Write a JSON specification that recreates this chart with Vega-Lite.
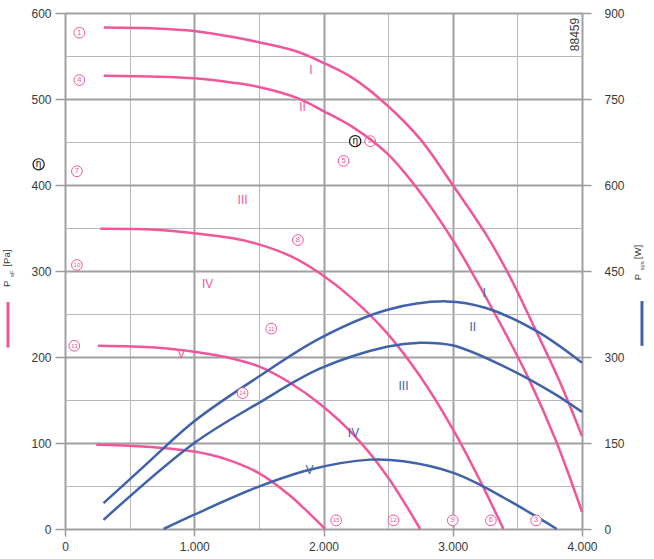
{
  "$schema": "https://vega.github.io/schema/vega-lite/v6.json",
  "width": 517,
  "height": 516,
  "autosize": {"type": "none"},
  "padding": {"left": 65, "top": 13, "right": 72, "bottom": 30},
  "background": "white",
  "config": {
    "view": {"stroke": null},
    "text": {"font": "Liberation Sans"},
    "axis": {"labelFont": "Liberation Sans", "labelFontSize": 12, "labelColor": "#3a3a3a", "domain": false, "tickColor": "#9a9a9a", "tickWidth": 1.5, "labelFlush": false}
  },
  "datasets": {
    "pink": [
      {"c": "I", "x": 300, "y": 583}, {"c": "I", "x": 700, "y": 582}, {"c": "I", "x": 1000, "y": 579}, {"c": "I", "x": 1300, "y": 572}, {"c": "I", "x": 1500, "y": 566}, {"c": "I", "x": 1800, "y": 555}, {"c": "I", "x": 2000, "y": 542}, {"c": "I", "x": 2230, "y": 524}, {"c": "I", "x": 2490, "y": 493}, {"c": "I", "x": 2750, "y": 453}, {"c": "I", "x": 3000, "y": 400}, {"c": "I", "x": 3260, "y": 342}, {"c": "I", "x": 3440, "y": 294}, {"c": "I", "x": 3620, "y": 238}, {"c": "I", "x": 3820, "y": 174}, {"c": "I", "x": 4000, "y": 108},
      {"c": "II", "x": 300, "y": 527}, {"c": "II", "x": 700, "y": 526}, {"c": "II", "x": 1000, "y": 524}, {"c": "II", "x": 1300, "y": 519}, {"c": "II", "x": 1500, "y": 514}, {"c": "II", "x": 1800, "y": 501}, {"c": "II", "x": 2000, "y": 486}, {"c": "II", "x": 2230, "y": 467}, {"c": "II", "x": 2490, "y": 437}, {"c": "II", "x": 2750, "y": 391}, {"c": "II", "x": 3000, "y": 336}, {"c": "II", "x": 3135, "y": 302}, {"c": "II", "x": 3360, "y": 241}, {"c": "II", "x": 3590, "y": 174}, {"c": "II", "x": 3800, "y": 102}, {"c": "II", "x": 4000, "y": 20},
      {"c": "III", "x": 273, "y": 349}, {"c": "III", "x": 700, "y": 348}, {"c": "III", "x": 1000, "y": 344}, {"c": "III", "x": 1300, "y": 338}, {"c": "III", "x": 1500, "y": 331}, {"c": "III", "x": 1750, "y": 317}, {"c": "III", "x": 1975, "y": 297}, {"c": "III", "x": 2230, "y": 267}, {"c": "III", "x": 2490, "y": 228}, {"c": "III", "x": 2750, "y": 177}, {"c": "III", "x": 3005, "y": 115}, {"c": "III", "x": 3212, "y": 56}, {"c": "III", "x": 3392, "y": 0},
      {"c": "IV", "x": 255, "y": 213}, {"c": "IV", "x": 700, "y": 211}, {"c": "IV", "x": 1000, "y": 206}, {"c": "IV", "x": 1300, "y": 198}, {"c": "IV", "x": 1500, "y": 189}, {"c": "IV", "x": 1740, "y": 170}, {"c": "IV", "x": 1975, "y": 145}, {"c": "IV", "x": 2230, "y": 110}, {"c": "IV", "x": 2490, "y": 62}, {"c": "IV", "x": 2748, "y": 0},
      {"c": "V", "x": 242, "y": 98}, {"c": "V", "x": 600, "y": 96}, {"c": "V", "x": 1000, "y": 90}, {"c": "V", "x": 1250, "y": 81}, {"c": "V", "x": 1500, "y": 65}, {"c": "V", "x": 1740, "y": 39}, {"c": "V", "x": 1870, "y": 21}, {"c": "V", "x": 2013, "y": 0}
    ],
    "blue": [
      {"c": "A", "x": 298, "w": 45}, {"c": "A", "x": 600, "w": 107}, {"c": "A", "x": 1000, "w": 188}, {"c": "A", "x": 1500, "w": 266}, {"c": "A", "x": 1975, "w": 333}, {"c": "A", "x": 2490, "w": 382}, {"c": "A", "x": 2954, "w": 397}, {"c": "A", "x": 3264, "w": 385}, {"c": "A", "x": 3650, "w": 345}, {"c": "A", "x": 4000, "w": 290},
      {"c": "B", "x": 298, "w": 16}, {"c": "B", "x": 1000, "w": 150}, {"c": "B", "x": 1500, "w": 220}, {"c": "B", "x": 1975, "w": 280}, {"c": "B", "x": 2490, "w": 318}, {"c": "B", "x": 2748, "w": 325}, {"c": "B", "x": 3005, "w": 320}, {"c": "B", "x": 3392, "w": 284}, {"c": "B", "x": 3778, "w": 237}, {"c": "B", "x": 4000, "w": 204},
      {"c": "C", "x": 763, "w": 0}, {"c": "C", "x": 1000, "w": 25}, {"c": "C", "x": 1500, "w": 74}, {"c": "C", "x": 1884, "w": 103}, {"c": "C", "x": 2361, "w": 121}, {"c": "C", "x": 2619, "w": 118}, {"c": "C", "x": 3005, "w": 98}, {"c": "C", "x": 3212, "w": 77}, {"c": "C", "x": 3392, "w": 55}, {"c": "C", "x": 3599, "w": 28}, {"c": "C", "x": 3805, "w": 0}
    ],
    "pinkLabels": [
      {"t": "I", "x": 1902, "y": 534}, {"t": "II", "x": 1838, "y": 491}, {"t": "III", "x": 1374, "y": 383}, {"t": "IV", "x": 1103, "y": 285}, {"t": "V", "x": 899, "y": 204}
    ],
    "blueLabels": [
      {"t": "I", "x": 3243, "y": 274}, {"t": "II", "x": 3155, "y": 235}, {"t": "III", "x": 2619, "y": 166}, {"t": "IV", "x": 2232, "y": 112}, {"t": "V", "x": 1892, "y": 69}
    ],
    "circle2": [{"t": "2", "x": 2361, "y": 451}],
    "circles": [
      {"t": "1", "x": 111, "y": 577}, {"t": "4", "x": 111, "y": 522}, {"t": "7", "x": 92, "y": 416}, {"t": "10", "x": 92, "y": 307}, {"t": "13", "x": 72, "y": 213},
      {"t": "14", "x": 1374, "y": 158}, {"t": "11", "x": 1596, "y": 233}, {"t": "8", "x": 1802, "y": 336}, {"t": "5", "x": 2155, "y": 428},
      {"t": "15", "x": 2098, "y": 10}, {"t": "12", "x": 2541, "y": 10}, {"t": "9", "x": 3000, "y": 10}, {"t": "6", "x": 3295, "y": 10}, {"t": "3", "x": 3645, "y": 10}
    ],
    "eta": [{"t": "η", "x": 2245, "y": 451}, {"t": "η", "x": -204, "y": 424}],
    "titleBig": [
      {"t": "[Pa]", "x": -446, "y": 315}, {"t": "P", "x": -451, "y": 285},
      {"t": "[W]", "x": 4437, "y": 322}, {"t": "P", "x": 4437, "y": 293}
    ],
    "titleSmall": [
      {"t": "sF", "x": -412, "y": 297}, {"t": "sys", "x": 4466, "y": 306}
    ],
    "bars": [
      {"s": "Pa", "x": -441, "y": 211, "y2": 264},
      {"s": "W", "x": 4464, "y": 213, "y2": 265}
    ],
    "code": [{"t": "88459", "x": 3947, "y": 575}]
  },
  "layer": [
    {
      "encoding": {
        "x": {
          "field": "x", "type": "quantitative",
          "scale": {"domain": [0, 4000], "nice": false, "zero": false},
          "axis": {
            "title": null,
            "values": [0, 1000, 2000, 3000, 4000],
            "labelExpr": "replace(format(datum.value, ','), ',', '.')",
            "grid": true, "gridColor": "#a0a0a0", "gridWidth": 2,
            "tickSize": 7, "labelPadding": 5
          }
        },
        "y": {
          "field": "y", "type": "quantitative",
          "scale": {"domain": [0, 600], "nice": false},
          "axis": {
            "title": null,
            "values": [0, 100, 200, 300, 400, 500, 600],
            "grid": true, "gridColor": "#a0a0a0", "gridWidth": 2,
            "tickSize": 10, "labelPadding": 4
          }
        }
      },
      "layer": [
        {"data": {"name": "circle2"}, "mark": {"type": "point", "shape": "circle", "size": 115, "fill": "white", "stroke": "#f0569b", "strokeWidth": 1, "opacity": 1}},
        {"data": {"name": "circle2"}, "mark": {"type": "text", "fontSize": 7.5, "color": "#f0569b", "align": "center", "baseline": "middle"}, "encoding": {"text": {"field": "t"}}},
        {"data": {"name": "pink"}, "mark": {"type": "line", "color": "#f0569b", "strokeWidth": 2.5, "interpolate": "catmull-rom"}, "encoding": {"detail": {"field": "c"}}},
        {"data": {"name": "pinkLabels"}, "mark": {"type": "text", "fontSize": 12, "color": "#f0569b", "align": "center", "baseline": "middle"}, "encoding": {"text": {"field": "t"}}},
        {"data": {"name": "blueLabels"}, "mark": {"type": "text", "fontSize": 12, "color": "#4062ab", "align": "center", "baseline": "middle"}, "encoding": {"text": {"field": "t"}}},
        {"data": {"name": "titleBig"}, "mark": {"type": "text", "fontSize": 9.5, "color": "#3a3a3a", "angle": 270, "align": "center", "baseline": "middle"}, "encoding": {"text": {"field": "t"}}},
        {"data": {"name": "titleSmall"}, "mark": {"type": "text", "fontSize": 6, "color": "#3a3a3a", "angle": 270, "align": "center", "baseline": "middle"}, "encoding": {"text": {"field": "t"}}},
        {"data": {"name": "bars"}, "mark": {"type": "rule", "strokeWidth": 3}, "encoding": {"y2": {"field": "y2"}, "color": {"field": "s", "type": "nominal", "scale": {"domain": ["Pa", "W"], "range": ["#f0569b", "#4062ab"]}, "legend": null}}},
        {"data": {"name": "code"}, "mark": {"type": "text", "fontSize": 12, "color": "#3a3a3a", "angle": 270, "align": "center", "baseline": "middle"}, "encoding": {"text": {"field": "t"}}}
      ]
    },
    {
      "data": {"name": "blue"},
      "mark": {"type": "line", "color": "#4062ab", "strokeWidth": 2.5, "interpolate": "catmull-rom"},
      "encoding": {
        "x": {
          "field": "x", "type": "quantitative",
          "scale": {"domain": [0, 4000], "nice": false, "zero": false},
          "axis": {"title": null, "orient": "bottom", "values": [500, 1500, 2500, 3500], "grid": true, "gridColor": "#b8b8b8", "gridWidth": 1, "labels": false, "ticks": false}
        },
        "y": {
          "field": "w", "type": "quantitative",
          "scale": {"domain": [0, 900], "nice": false},
          "axis": {"orient": "right", "title": null, "values": [0, 150, 300, 450, 600, 750, 900], "grid": false, "tickSize": 9, "labelPadding": 13}
        },
        "detail": {"field": "c"}
      }
    },
    {
      "encoding": {
        "x": {"field": "x", "type": "quantitative", "scale": {"domain": [0, 4000], "nice": false, "zero": false}, "axis": null},
        "y": {
          "field": "y", "type": "quantitative",
          "scale": {"domain": [0, 600], "nice": false},
          "axis": {"title": null, "orient": "left", "values": [50, 150, 250, 350, 450, 550], "grid": true, "gridColor": "#b8b8b8", "gridWidth": 1, "labels": false, "ticks": false}
        }
      },
      "layer": [
        {"data": {"name": "circles"}, "mark": {"type": "point", "shape": "circle", "size": 115, "fill": "white", "stroke": "#f0569b", "strokeWidth": 1, "opacity": 1}},
        {"data": {"name": "circles"}, "transform": [{"filter": "length(datum.t) === 1"}], "mark": {"type": "text", "fontSize": 7.5, "color": "#f0569b", "align": "center", "baseline": "middle"}, "encoding": {"text": {"field": "t"}}},
        {"data": {"name": "circles"}, "transform": [{"filter": "length(datum.t) > 1"}], "mark": {"type": "text", "fontSize": 6, "color": "#f0569b", "align": "center", "baseline": "middle"}, "encoding": {"text": {"field": "t"}}},
        {"data": {"name": "eta"}, "mark": {"type": "point", "shape": "circle", "size": 125, "fill": "white", "stroke": "#111111", "strokeWidth": 1.2, "opacity": 1}},
        {"data": {"name": "eta"}, "mark": {"type": "text", "fontSize": 10, "color": "#111111", "align": "center", "baseline": "middle"}, "encoding": {"text": {"field": "t"}}}
      ]
    }
  ],
  "resolve": {"scale": {"x": "independent", "y": "independent"}}
}
